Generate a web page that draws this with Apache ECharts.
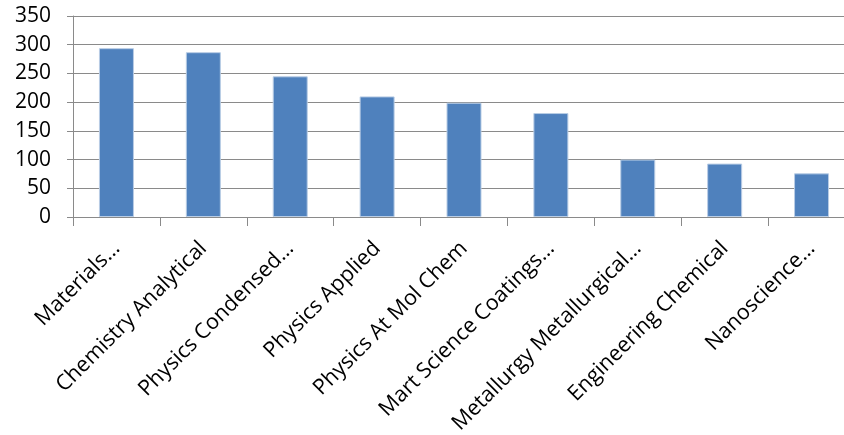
<!DOCTYPE html>
<html lang="en">
<head>
    <meta charset="UTF-8">
    <title>Subject categories</title>
    <script src="https://cdn.jsdelivr.net/npm/echarts@6/dist/echarts.min.js"></script>
    <style>
        html, body { margin: 0; padding: 0; background: #fff; overflow: hidden; }
        /* the plot runs a little past the right edge of the picture */
        #chart { width: 860px; height: 435px; }
    </style>
</head>
<body>
<div id="chart"></div>
<script type="text/javascript">
    // categories and counts
    var categories = [
        'Materials\u2026',
        'Chemistry Analytical',
        'Physics Condensed\u2026',
        'Physics Applied',
        'Physics At Mol Chem',
        'Mart Science Coatings\u2026',
        'Metallurgy Metallurgical\u2026',
        'Engineering Chemical',
        'Nanoscience\u2026'
    ];
    var counts = [294, 287, 245, 210, 199, 181, 100, 93, 76];
    var yTicks = [0, 50, 100, 150, 200, 250, 300, 350];

    var myChart = echarts.init(document.getElementById('chart'));
    var gridColor = '#8a8a8a';
    var font = '"Open Sans", sans-serif';

    var option = {
        animation: false,
        grid: {
            left: 73,
            top: 16,
            width: 782,
            bottom: 218,
            outerBoundsMode: 'none',
            containLabel: false
        },
        xAxis: {
            type: 'category',
            data: categories,
            boundaryGap: true,
            axisLine: { show: true, lineStyle: { color: gridColor, width: 1 } },
            axisTick: { show: true, length: 9, lineStyle: { color: gridColor } },
            axisLabel: {
                rotate: 45,
                margin: 28,
                color: '#000',
                fontFamily: font,
                fontSize: 21.5
            }
        },
        yAxis: {
            type: 'value',
            min: yTicks[0],
            max: yTicks[yTicks.length - 1],
            interval: 50,
            axisLine: { show: true, lineStyle: { color: gridColor, width: 1 } },
            axisTick: { show: true, length: 6, lineStyle: { color: gridColor } },
            splitLine: { show: true, lineStyle: { color: gridColor, width: 1.2 } },
            axisLabel: {
                margin: 22,
                color: '#000',
                fontFamily: font,
                fontSize: 21
            }
        },
        series: [{
            type: 'bar',
            data: counts,
            barWidth: 35,
            itemStyle: {
                color: '#4F81BD',
                borderColor: '#B9CDE5',
                borderWidth: 1
            }
        }]
    };
    myChart.setOption(option);
</script>
</body>
</html>
